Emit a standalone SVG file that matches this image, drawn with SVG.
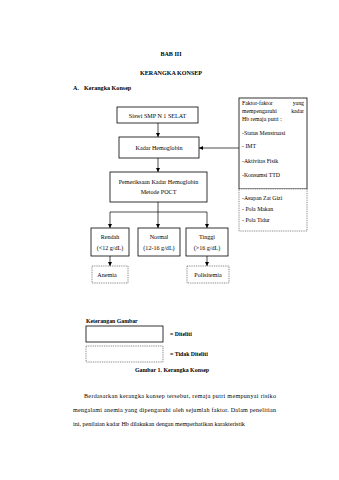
<svg xmlns="http://www.w3.org/2000/svg" width="339" height="480" viewBox="0 0 339 480">
<style>
text{font-family:"Liberation Serif","Times New Roman",serif;fill:#000;}
.h{font-size:6.1px;font-weight:bold;}
.b{font-size:6.1px;}
.f{font-size:5.8px;}
.p{font-size:6.1px;}
.box{fill:#fff;stroke:#000;stroke-width:0.8;}
.dash{fill:#fff;stroke:#555;stroke-width:0.7;stroke-dasharray:1 0.8;}
.ln{stroke:#000;stroke-width:0.7;fill:none;}
</style>
<defs>
<marker id="ar" viewBox="0 0 6 6" refX="6" refY="3" markerWidth="4" markerHeight="4" orient="auto" markerUnits="userSpaceOnUse">
<path d="M0,0 L6,3 L0,6 z" fill="#000"/>
</marker>
</defs>
<rect width="339" height="480" fill="#fff"/>
<g id="headings">
<text class="h" x="171" y="56" text-anchor="middle">BAB III</text>
<text class="h" x="171" y="75" text-anchor="middle">KERANGKA KONSEP</text>
<text class="h" x="73" y="90">A.</text>
<text class="h" x="84" y="90">Kerangka Konsep</text>
</g>
<g id="connectors">
<line class="ln" x1="158" y1="123" x2="158" y2="137" marker-end="url(#ar)"/>
<line class="ln" x1="158" y1="158" x2="158" y2="172" marker-end="url(#ar)"/>
<line class="ln" x1="158" y1="202" x2="158" y2="212"/>
<line class="ln" x1="110" y1="212" x2="207" y2="212"/>
<line class="ln" x1="110" y1="212" x2="110" y2="228" marker-end="url(#ar)"/>
<line class="ln" x1="158" y1="212" x2="158" y2="228" marker-end="url(#ar)"/>
<line class="ln" x1="207" y1="212" x2="207" y2="228" marker-end="url(#ar)"/>
<line class="ln" x1="110" y1="256" x2="110" y2="266" marker-end="url(#ar)"/>
<line class="ln" x1="207" y1="256" x2="207" y2="266" marker-end="url(#ar)"/>
<line class="ln" x1="239" y1="148" x2="199" y2="148" marker-end="url(#ar)"/>
</g>
<g id="siswi">
<rect class="box" x="117" y="107" width="81" height="16"/>
<text class="b" x="157.5" y="117.5" text-anchor="middle">Siswi SMP N 1 SELAT</text>
</g>
<g id="kadar">
<rect class="box" x="119" y="137" width="80" height="21"/>
<text class="b" x="159" y="150" text-anchor="middle">Kadar Hemoglobin</text>
</g>
<g id="pemeriksaan">
<rect class="box" x="110" y="172" width="97" height="30"/>
<text class="b" x="158.5" y="184" text-anchor="middle">Pemeriksaan Kadar Hemoglobin</text>
<text class="b" x="158.5" y="194" text-anchor="middle">Metode POCT</text>
</g>
<g id="rendah">
<rect class="box" x="91" y="228" width="38" height="28"/>
<text class="b" x="110" y="238.5" text-anchor="middle">Rendah</text>
<text class="b" x="110" y="250" text-anchor="middle">(&lt;12 g/dL)</text>
</g>
<g id="normal">
<rect class="box" x="138" y="228" width="42" height="28"/>
<text class="b" x="159" y="238.5" text-anchor="middle">Normal</text>
<text class="b" x="159" y="250" text-anchor="middle">(12-16 g/dL)</text>
</g>
<g id="tinggi">
<rect class="box" x="186" y="228" width="42" height="28"/>
<text class="b" x="207" y="238.5" text-anchor="middle">Tinggi</text>
<text class="b" x="207" y="250" text-anchor="middle">(&gt;16 g/dL)</text>
</g>
<g id="anemia">
<rect class="dash" x="92" y="266" width="36" height="17"/>
<text class="b" x="107" y="277" text-anchor="middle">Anemia</text>
</g>
<g id="polisitemia">
<rect class="dash" x="187" y="266" width="42" height="17"/>
<text class="b" x="208" y="277" text-anchor="middle">Polisitemia</text>
</g>
<g id="faktor">
<rect class="box" x="239" y="98" width="68" height="91"/>
<text class="f" x="242" y="105">Faktor-faktor</text>
<text class="f" x="304" y="105" text-anchor="end">yang</text>
<text class="f" x="242" y="113">mempengaruhi</text>
<text class="f" x="304" y="113" text-anchor="end">kadar</text>
<text class="f" x="242" y="121">Hb remaja putri :</text>
<text class="f" x="242" y="135">-Status Menstruasi</text>
<text class="f" x="242" y="148">- IMT</text>
<text class="f" x="242" y="163">-Aktivitas Fisik</text>
<text class="f" x="242" y="177">-Konsumsi TTD</text>
</g>
<g id="faktor-lain">
<rect class="dash" x="239" y="189" width="68" height="42"/>
<text class="f" x="242" y="200">-Asupan Zat Gizi</text>
<text class="f" x="242" y="211">- Pola Makan</text>
<text class="f" x="242" y="222">- Pola Tidur</text>
</g>
<g id="legend">
<text class="h" x="86" y="323" style="font-size:5.8px">Keterangan Gambar</text>
<rect class="box" x="86" y="326" width="77" height="16"/>
<text class="h" x="170" y="336" style="font-size:5.8px">= Diteliti</text>
<rect class="dash" x="86" y="346" width="77" height="16"/>
<text class="h" x="170" y="356" style="font-size:5.8px">= Tidak Diteliti</text>
<text class="h" x="172" y="372" text-anchor="middle" style="font-size:5.9px">Gambar 1. Kerangka Konsep</text>
</g>
<g id="paragraph">
<text class="p" x="84" y="398" textLength="192" lengthAdjust="spacing">Berdasarkan kerangka konsep tersebut, remaja putri mempunyai risiko</text>
<text class="p" x="73" y="412" textLength="203" lengthAdjust="spacing">mengalami anemia yang dipengaruhi oleh sejumlah faktor. Dalam penelitian</text>
<text class="p" x="73" y="426">ini, penilaian kadar Hb dilakukan dengan memperhatikan karakteristik</text>
</g>
</svg>
